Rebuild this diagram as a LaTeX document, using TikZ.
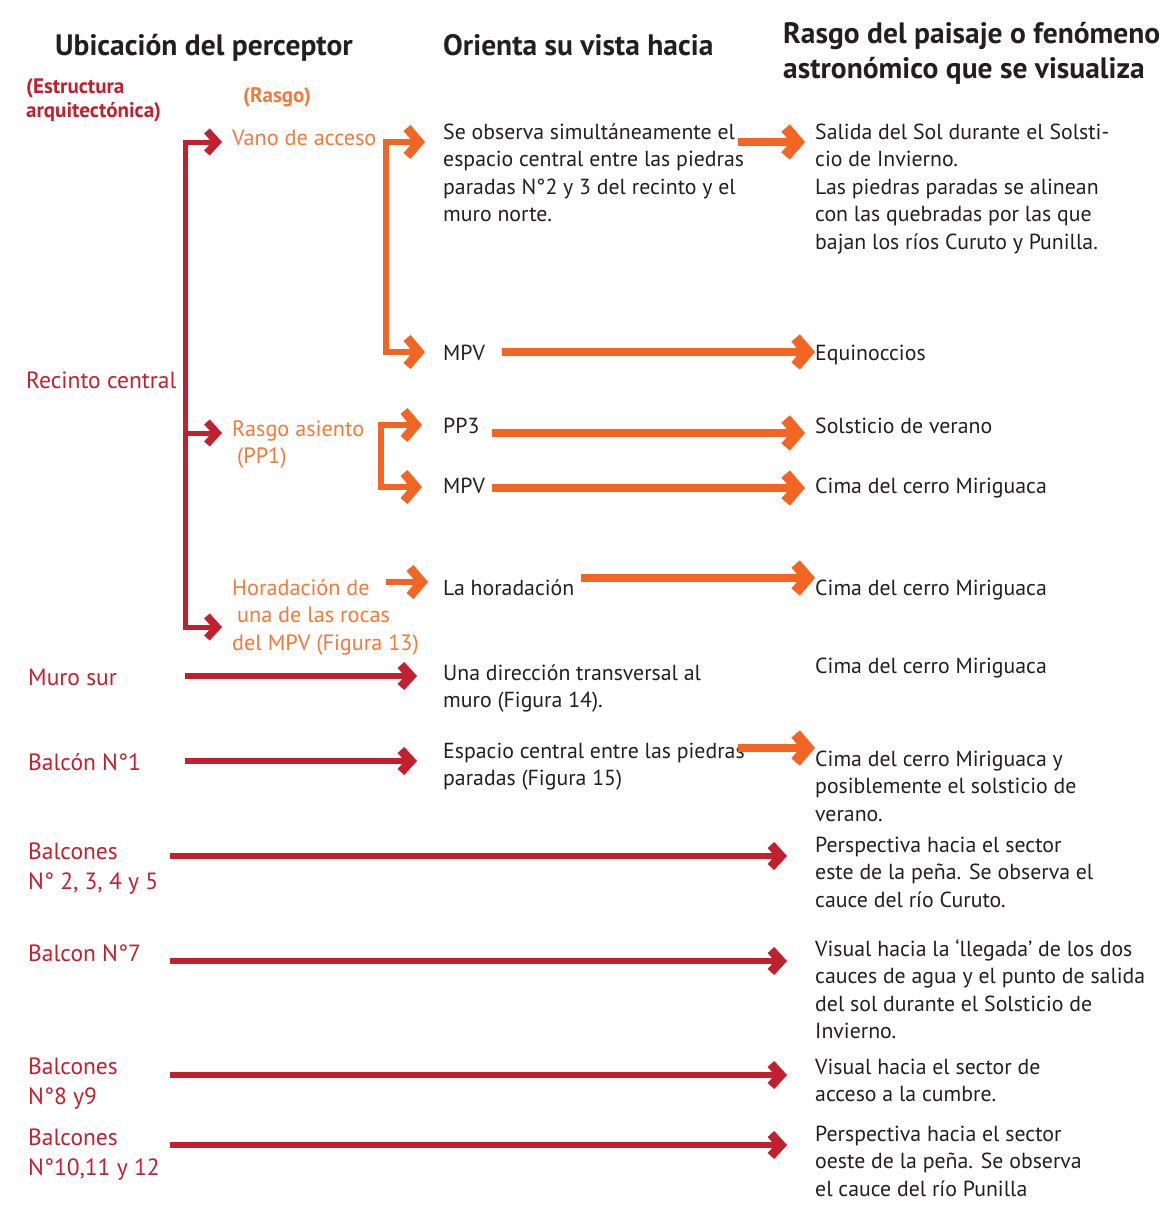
\documentclass[tikz,border=0pt]{standalone}
\usepackage{fontspec}
\setmainfont{PT Sans}
\usetikzlibrary{arrows.meta}

\definecolor{rojo}{RGB}{193,32,46}
\definecolor{naranja}{RGB}{242,101,34}
\definecolor{naranjatx}{RGB}{244,121,58}
\definecolor{tinta}{RGB}{35,31,32}

% varias lineas, con la base en la primera
\newcommand{\lineas}[1]{\begin{tabular}[t]{@{}l@{}}#1\end{tabular}}

\begin{document}
\begin{tikzpicture}[%
      x=1pt, y=-1pt,
      every node/.style={inner sep=0pt, anchor=base west},
      titulo/.style={font=\fontsize{29.5}{35}\selectfont\bfseries, text=tinta},
      subtitulo/.style={font=\fontsize{21}{24}\selectfont\bfseries},
      cuerpo/.style={font=\fontsize{21.8}{27.6}\selectfont, text=tinta},
      estructura/.style={font=\fontsize{23.5}{30}\selectfont, text=rojo},
      rasgo/.style={font=\fontsize{22.2}{27.6}\selectfont, text=naranjatx},
      puntarojo/.tip={Straight Barb[length=10pt,width=22pt,line width=0pt 1.5,line join=miter]},
      puntanaranja/.tip={Straight Barb[length=12pt,width=28pt,line width=0pt 1.4,line join=miter]},
      arbolrojo/.style={draw=rojo, line width=5pt},
      flecharoja/.style={draw=rojo, line width=6pt, -puntarojo},
      arbolnaranja/.style={draw=naranja, line width=6.5pt},
      flechanaranja/.style={draw=naranja, line width=8pt, -puntanaranja},
      ]
      \useasboundingbox (0,0) rectangle (1167,1210);
      \fill[white] (0,0) rectangle (1167,1210);

      % encabezados
      \node[titulo] (hubic) at (55,55) {Ubicación del perceptor};
      \node[titulo] (horient) at (443,55) {Orienta su vista hacia};
      \node[titulo] (hrasgo) at (783,43) {\lineas{Rasgo del paisaje o fenómeno\\astronómico que se visualiza}};
      \node[subtitulo, text=rojo] (hestr) at (26,93) {\lineas{(Estructura\\arquitectónica)}};
      \node[subtitulo, text=naranjatx] (hrasg) at (243,102) {(Rasgo)};

      % estructuras
      \node[estructura] (recinto) at (26,388) {Recinto central};
      \node[estructura] (muro) at (28,685) {Muro sur};
      \node[estructura] (balc1) at (28,770) {Balcón N°1};
      \node[estructura] (balc2) at (28,859) {\lineas{Balcones\\N° 2, 3, 4 y 5}};
      \node[estructura] (balc7) at (28,961) {Balcon N°7};
      \node[estructura] (balc8) at (28,1074) {\lineas{Balcones\\N°8 y9}};
      \node[estructura] (balc10) at (28,1145) {\lineas{Balcones\\N°10,11 y 12}};

      % rasgos
      \node[rasgo] (vano) at (232,145) {Vano de acceso};
      \node[rasgo] (asiento) at (232,436) {\lineas{Rasgo asiento\\\hspace{5pt}(PP1)}};
      \node[rasgo] (horad) at (232,595) {\lineas{Horadación de\\\hspace{5pt}una de las rocas\\del MPV (Figura 13)}};

      % vistas
      \node[cuerpo] (vsimul) at (443,139) {\lineas{Se observa simultáneamente el\\espacio central entre las piedras\\paradas N°2 y 3 del recinto y el\\muro norte.}};
      \node[cuerpo] (vmpv) at (443,360) {MPV};
      \node[cuerpo] (vpp3) at (443,433) {PP3};
      \node[cuerpo] (vmpvb) at (443,493) {MPV};
      \node[cuerpo] (vhorad) at (443,595) {La horadación};
      \node[cuerpo] (vtransv) at (443,680) {\lineas{Una dirección transversal al\\muro (Figura 14).}};
      \node[cuerpo] (vespacio) at (443,758) {\lineas{Espacio central entre las piedras\\paradas (Figura 15)}};

      % paisaje
      \node[cuerpo] (psalida) at (815,139) {\lineas{Salida del Sol durante el Solsti-\\cio de Invierno.\\Las piedras paradas se alinean\\con las quebradas por las que\\bajan los ríos Curuto y Punilla.}};
      \node[cuerpo] (pequi) at (815,360) {Equinoccios};
      \node[cuerpo] (pverano) at (815,433) {Solsticio de verano};
      \node[cuerpo] (pcima1) at (815,493) {Cima del cerro Miriguaca};
      \node[cuerpo] (pcima2) at (815,595) {Cima del cerro Miriguaca};
      \node[cuerpo] (pcima3) at (815,673) {Cima del cerro Miriguaca};
      \node[cuerpo] (pcima4) at (815,766) {\lineas{Cima del cerro Miriguaca y\\posiblemente el solsticio de\\verano.}};
      \node[cuerpo] (peste) at (815,852) {\lineas{Perspectiva hacia el sector\\este de la peña. Se observa el\\cauce del río Curuto.}};
      \node[cuerpo] (pllegada) at (815,956) {\lineas{Visual hacia la ‘llegada’ de los dos\\cauces de agua y el punto de salida\\del sol durante el Solsticio de\\Invierno.}};
      \node[cuerpo] (pcumbre) at (815,1074) {\lineas{Visual hacia el sector de\\acceso a la cumbre.}};
      \node[cuerpo] (poeste) at (815,1141) {\lineas{Perspectiva hacia el sector\\oeste de la peña. Se observa\\el cauce del río Punilla}};

      % arbol del recinto central
      \coordinate (troncoA) at (185,142);
      \coordinate (troncoB) at (185,433);
      \coordinate (troncoC) at (185,627);
      \draw[arbolrojo, puntarojo-puntarojo, shorten <=10pt, shorten >=10pt]
        (troncoA -| vano.west) -- (troncoA) -- (troncoC) -- (troncoC -| horad.west);
      \draw[arbolrojo, -puntarojo, shorten >=10pt] (troncoB) -- (troncoB -| asiento.west);

      % ramas de los rasgos
      \coordinate (ramaA) at (386,142);
      \coordinate (ramaB) at (386,352);
      \coordinate (ramaC) at (381,425);
      \coordinate (ramaD) at (381,487);
      \coordinate (ramaE) at (386,582);
      \draw[arbolnaranja, puntanaranja-puntanaranja, shorten <=18pt, shorten >=18pt]
        (ramaA -| vsimul.west) -- (ramaA) -- (ramaB) -- (ramaB -| vmpv.west);
      \draw[arbolnaranja, puntanaranja-puntanaranja, shorten <=21pt, shorten >=21pt]
        (ramaC -| vpp3.west) -- (ramaC) -- (ramaD) -- (ramaD -| vmpvb.west);
      \draw[arbolnaranja, -puntanaranja, shorten >=15pt] (ramaE) -- (ramaE -| vhorad.west);

      % flechas hacia el paisaje
      \coordinate (naA) at (738,142);
      \coordinate (naB) at (502,352);
      \coordinate (naC) at (492,433);
      \coordinate (naD) at (492,488);
      \coordinate (naE) at (581,578);
      \coordinate (naF) at (738,748);
      \draw[flechanaranja, shorten >=10pt] (naA) -- (naA -| psalida.west);
      \draw[flechanaranja] (naB) -- (naB -| pequi.west);
      \draw[flechanaranja, shorten >=10pt] (naC) -- (naC -| pverano.west);
      \draw[flechanaranja, shorten >=10pt] (naD) -- (naD -| pcima1.west);
      \draw[flechanaranja] (naE) -- (naE -| pcima2.west);
      \draw[flechanaranja] (naF) -- (naF -| pcima4.west);

      % flechas de muros y balcones
      \coordinate (roA) at (185,676);
      \coordinate (roB) at (185,761);
      \coordinate (roC) at (170,856);
      \coordinate (roD) at (170,961);
      \coordinate (roE) at (170,1075);
      \coordinate (roF) at (170,1145);
      \draw[flecharoja, shorten >=26pt] (roA) -- (roA -| vtransv.west);
      \draw[flecharoja, shorten >=26pt] (roB) -- (roB -| vespacio.west);
      \draw[flecharoja, shorten >=28pt] (roC) -- (roC -| peste.west);
      \draw[flecharoja, shorten >=28pt] (roD) -- (roD -| pllegada.west);
      \draw[flecharoja, shorten >=28pt] (roE) -- (roE -| pcumbre.west);
      \draw[flecharoja, shorten >=28pt] (roF) -- (roF -| poeste.west);
\end{tikzpicture}
\end{document}
